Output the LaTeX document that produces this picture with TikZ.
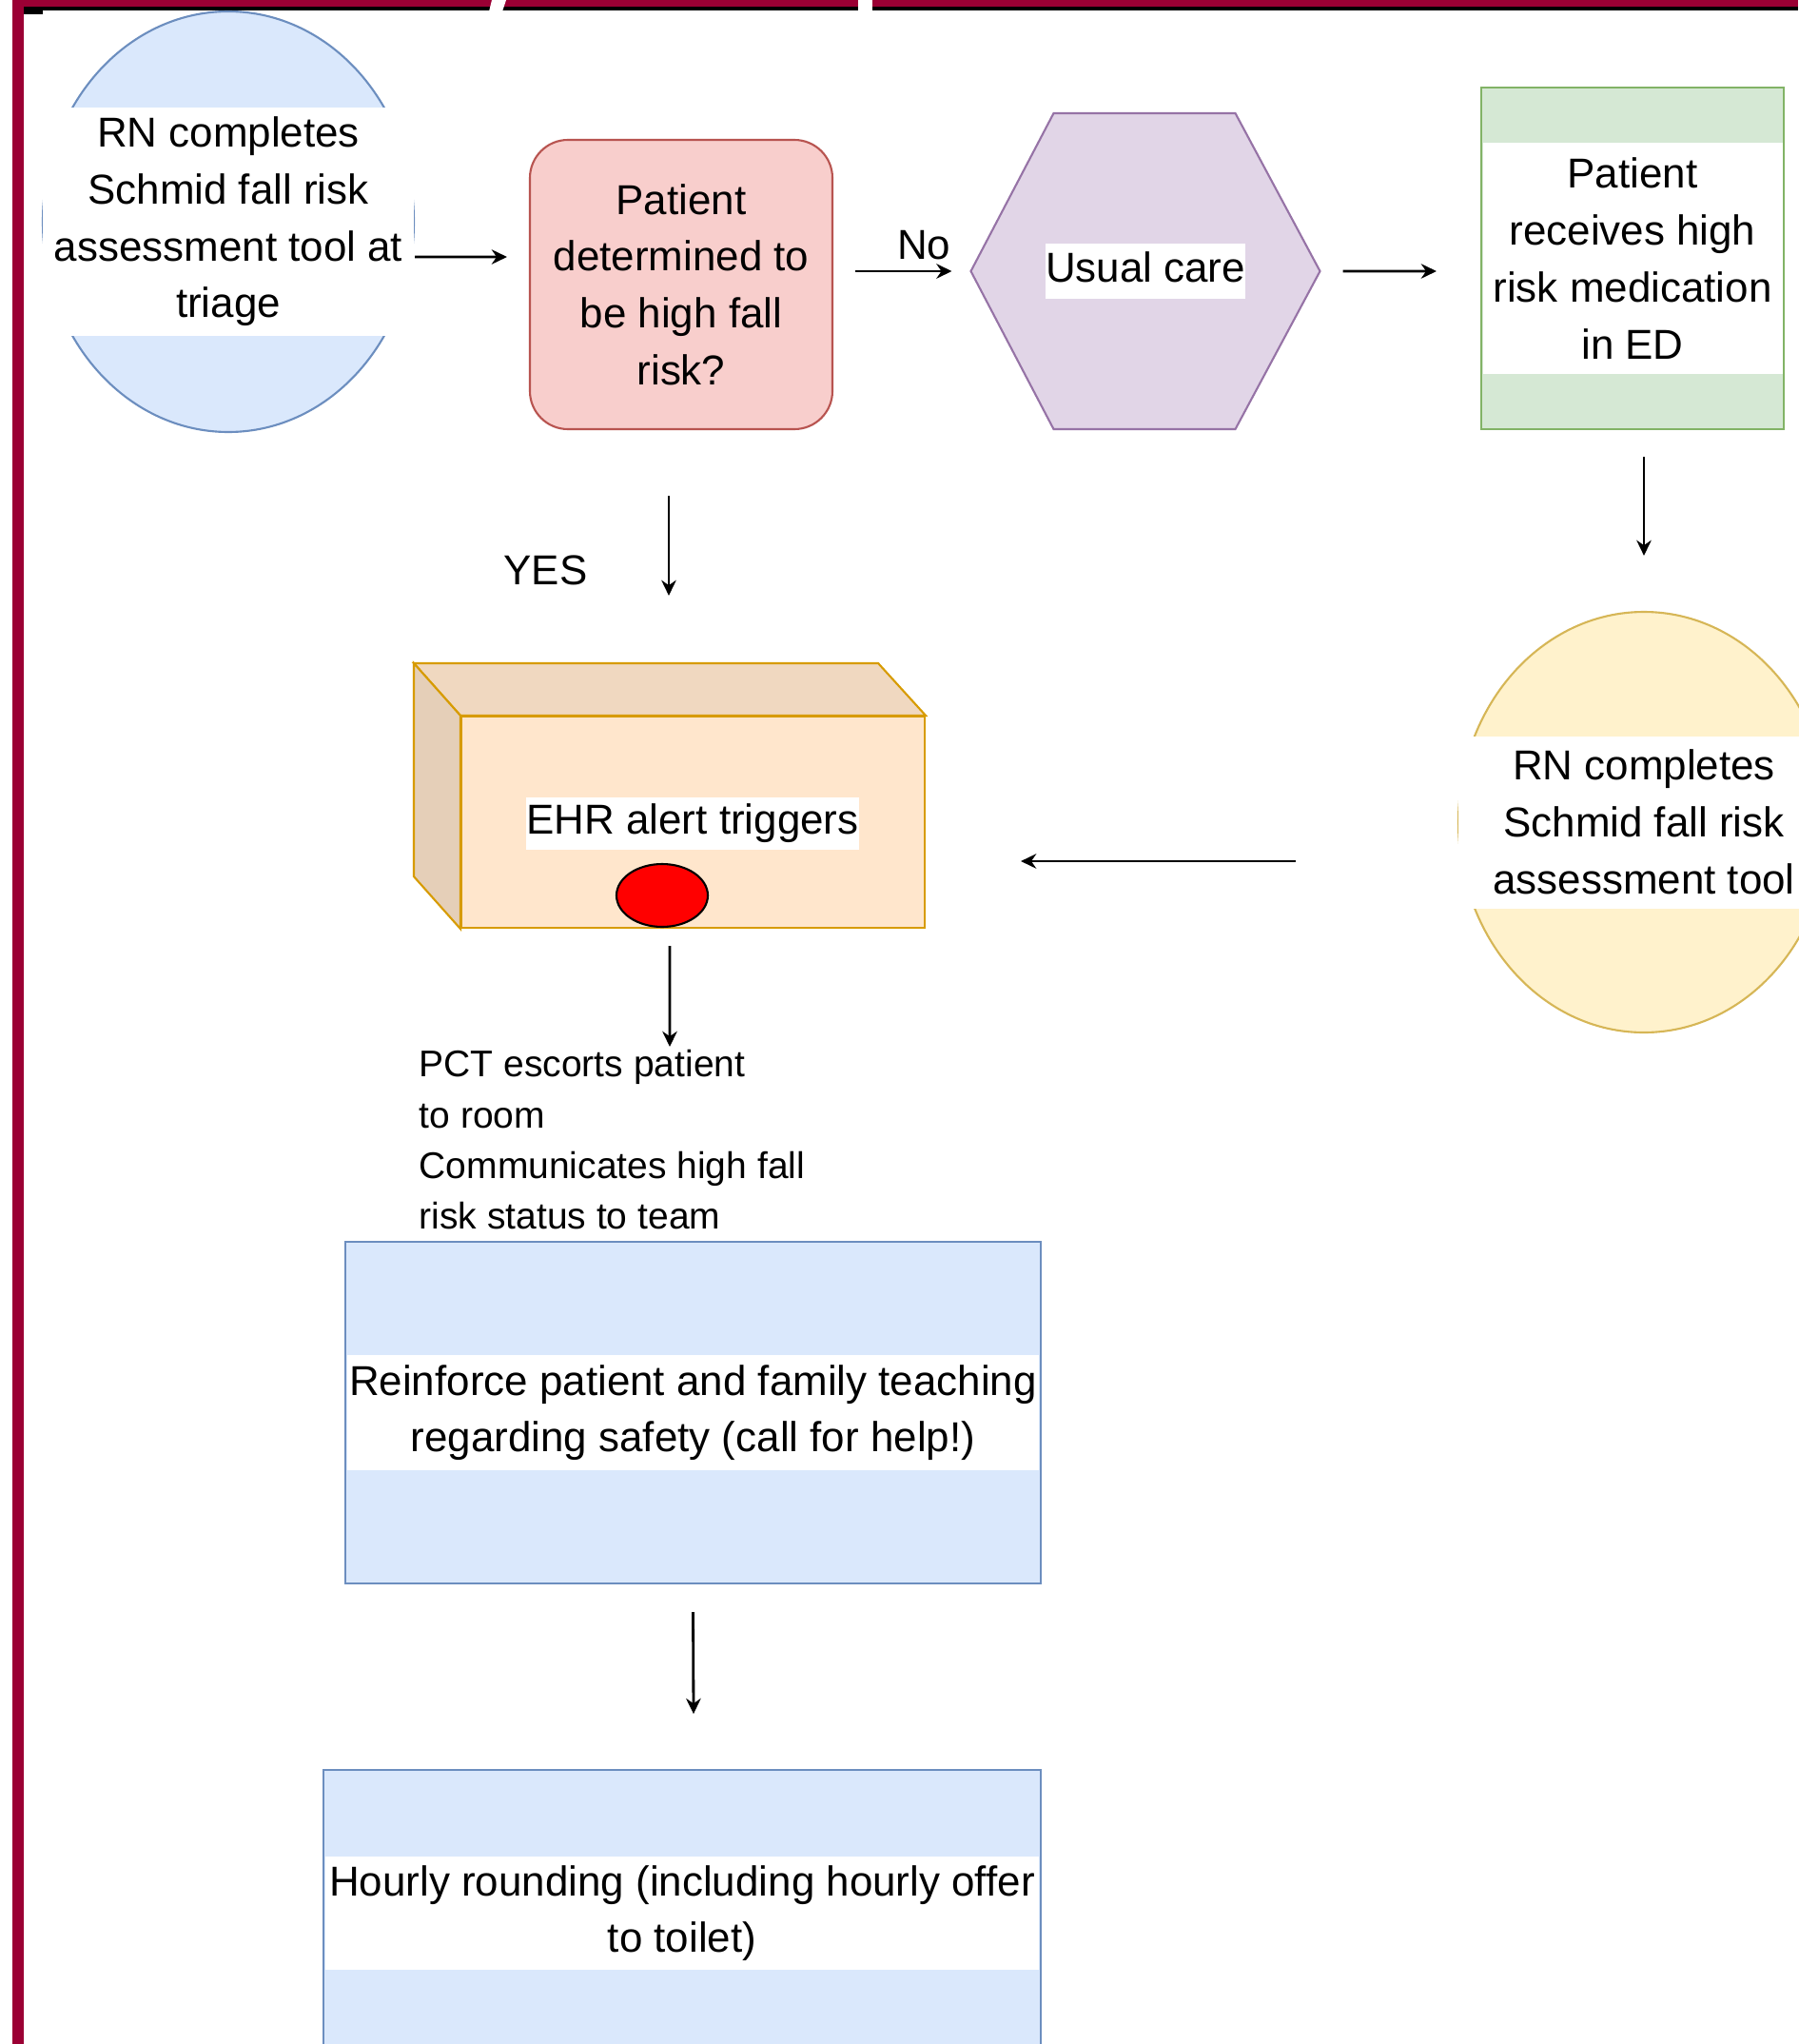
\documentclass[tikz,border=0pt]{standalone}
\usepackage{fontspec}
\setmainfont{Liberation Sans}
\usepackage{xcolor}
\usetikzlibrary{shapes.geometric,arrows.meta,positioning}

\definecolor{borderred}{RGB}{155,0,52}
\definecolor{blueF}{HTML}{DAE8FC}   \definecolor{blueD}{HTML}{6C8EBF}
\definecolor{redF}{HTML}{F8CECC}    \definecolor{redD}{HTML}{B85450}
\definecolor{purpleF}{HTML}{E1D5E7} \definecolor{purpleD}{HTML}{9673A6}
\definecolor{greenF}{HTML}{D5E8D4}  \definecolor{greenD}{HTML}{82B366}
\definecolor{yellowF}{HTML}{FFF2CC} \definecolor{yellowD}{HTML}{D6B656}
\definecolor{orangeF}{HTML}{FFE6CC} \definecolor{orangeD}{HTML}{D79B00}

\begin{document}
\begin{tikzpicture}[
  font=\fontsize{12.5}{17}\selectfont,
  blob/.style={ellipse, line width=0.6pt, minimum width=3.9cm, minimum height=4.42cm},
  flowbox/.style={draw, line width=0.6pt, align=center},
  band/.style={fill=white, inner xsep=0pt, inner ysep=0pt, align=center},
  link/.style={->, line width=0.8pt},
  >={Stealth[length=4.6pt,width=4.4pt]}
]
\useasboundingbox (0,0) rectangle (18.9,-21.48);

%% --- frame ---
\fill[black] (0.22,-0.07) rectangle (18.9,-0.11);
\fill[black] (0.22,-0.07) rectangle (0.45,-0.15);
\fill[borderred] (0.14,0) rectangle (18.9,-0.07);
\fill[borderred] (0.13,0) rectangle (0.25,-21.48);
\fill[white] (5.17,0) -- (5.32,0) -- (5.28,-0.12) -- (5.14,-0.12) -- cycle;
\fill[white] (9.02,0) rectangle (9.17,-0.12);

%% --- top row ---
\node[blob, draw=blueD, fill=blueF] (triage) at (2.40,-2.33) {};
\node[band, minimum width=3.9cm, minimum height=2.4cm] (triagetxt) at (triage.center)
  {RN completes\\Schmid fall risk\\assessment tool at\\triage};

\node[flowbox, rounded corners=0.4cm, fill=redF, draw=redD,
      minimum width=3.18cm, minimum height=3.04cm] (decision)
  at (7.16,-2.99) {Patient\\determined to\\be high fall\\risk?};

\node[minimum width=3.67cm, minimum height=3.32cm, outer sep=0pt] (usual) at (12.04,-2.85) {};
\draw[line width=0.6pt, fill=purpleF, draw=purpleD]
  (usual.west) -- ([xshift=0.87cm]usual.north west) -- ([xshift=-0.89cm]usual.north east)
  -- (usual.east) -- ([xshift=-0.89cm]usual.south east) -- ([xshift=0.87cm]usual.south west) -- cycle;
\node[band, text height=0.32cm, text depth=0.10cm, inner ysep=0.08cm] (usualtxt) at (usual.center) {Usual care};

\node[flowbox, fill=greenF, draw=greenD, minimum width=3.18cm, minimum height=3.59cm] (medication)
  at (17.16,-2.715) {};
\node[band, minimum width=3.15cm, minimum height=2.42cm] (medicationtxt) at (medication.center)
  {Patient\\receives high\\risk medication\\in ED};

%% --- right column ---
\node[blob, draw=yellowD, fill=yellowF] (assess) at (17.28,-8.64) {};
\node[band, minimum width=3.9cm, minimum height=1.81cm] (assesstxt) at (assess.center)
  {RN completes\\Schmid fall risk\\assessment tool};

%% --- EHR alert ---
\node[flowbox, fill=orangeF, draw=orangeD, minimum width=4.87cm, minimum height=2.22cm] (ehr)
  at (7.285,-8.64) {};
\draw[line width=0.6pt, draw=orangeD, fill=orangeF!94!black]
  (ehr.north west) -- ++(-0.49,0.55) -- ([xshift=-0.50cm,yshift=0.55cm]ehr.north east)
  -- (ehr.north east) -- cycle;
\draw[line width=0.6pt, draw=orangeD, fill=orangeF!90!black]
  (ehr.north west) -- ++(-0.49,0.55) -- ([xshift=-0.49cm,yshift=0.55cm]ehr.south west)
  -- (ehr.south west) -- cycle;
\node[band, text height=0.32cm, text depth=0.10cm, inner ysep=0.065cm] (ehrtxt) at (7.28,-8.655)
  {EHR alert triggers};
\node[ellipse, draw=black, fill=red, line width=0.6pt, minimum width=0.96cm, minimum height=0.66cm]
  (alarm) at (6.96,-9.41) {};

\node[font=\fontsize{11.1}{15.1}\selectfont, align=left, anchor=north west, inner sep=0pt] (pct)
  at (4.40,-11.03) {PCT escorts patient\\to room\\Communicates high fall\\risk status to team};

%% --- lower boxes ---
\node[flowbox, fill=blueF, draw=blueD, minimum width=7.31cm, minimum height=3.59cm] (reinforce)
  at (7.285,-14.845) {};
\node[band, minimum width=7.27cm, minimum height=1.21cm] (reinforcetxt) at (reinforce.center)
  {Reinforce patient and family teaching\\regarding safety (call for help!)};

\node[flowbox, fill=blueF, draw=blueD, minimum width=7.54cm, minimum height=3.01cm,
      below=1.94cm of reinforce, xshift=-0.115cm] (hourly) {};
\node[band, minimum width=7.50cm, minimum height=1.19cm] (hourlytxt) at (hourly.center)
  {Hourly rounding (including hourly offer\\to toilet)};

%% --- arrows ---
\draw[link] ([yshift=-0.37cm]triage.east) -- ([xshift=-0.23cm,yshift=0.29cm]decision.west);
\draw[link] ([xshift=0.23cm,yshift=0.14cm]decision.east) -- ([xshift=-0.20cm]usual.west)
  node[pos=0.71, above=0.11cm, inner sep=0pt] (no) {No};
\draw[link] ([xshift=0.24cm]usual.east) -- ([xshift=-0.46cm,yshift=-0.135cm]medication.west);
\draw[link] ([xshift=0.12cm,yshift=-0.28cm]medication.south) -- ([yshift=0.58cm]assess.north);
\draw[link] ([xshift=-1.70cm,yshift=-0.41cm]assess.west) -- ([xshift=1.00cm,yshift=-0.41cm]ehr.east);
\draw[link] ([xshift=-0.13cm,yshift=-0.69cm]decision.south) -- ([xshift=-0.255cm,yshift=1.26cm]ehr.north)
  node[pos=0.75, left=0.84cm, inner sep=0pt] (yes) {YES};
\draw[link] ([xshift=-0.245cm,yshift=-0.18cm]ehr.south) -- ([xshift=2.64cm,yshift=0.03cm]pct.north west);
\draw[link] ([yshift=-0.29cm]reinforce.south) -- ([xshift=0.12cm,yshift=0.58cm]hourly.north);
\end{tikzpicture}
\end{document}
